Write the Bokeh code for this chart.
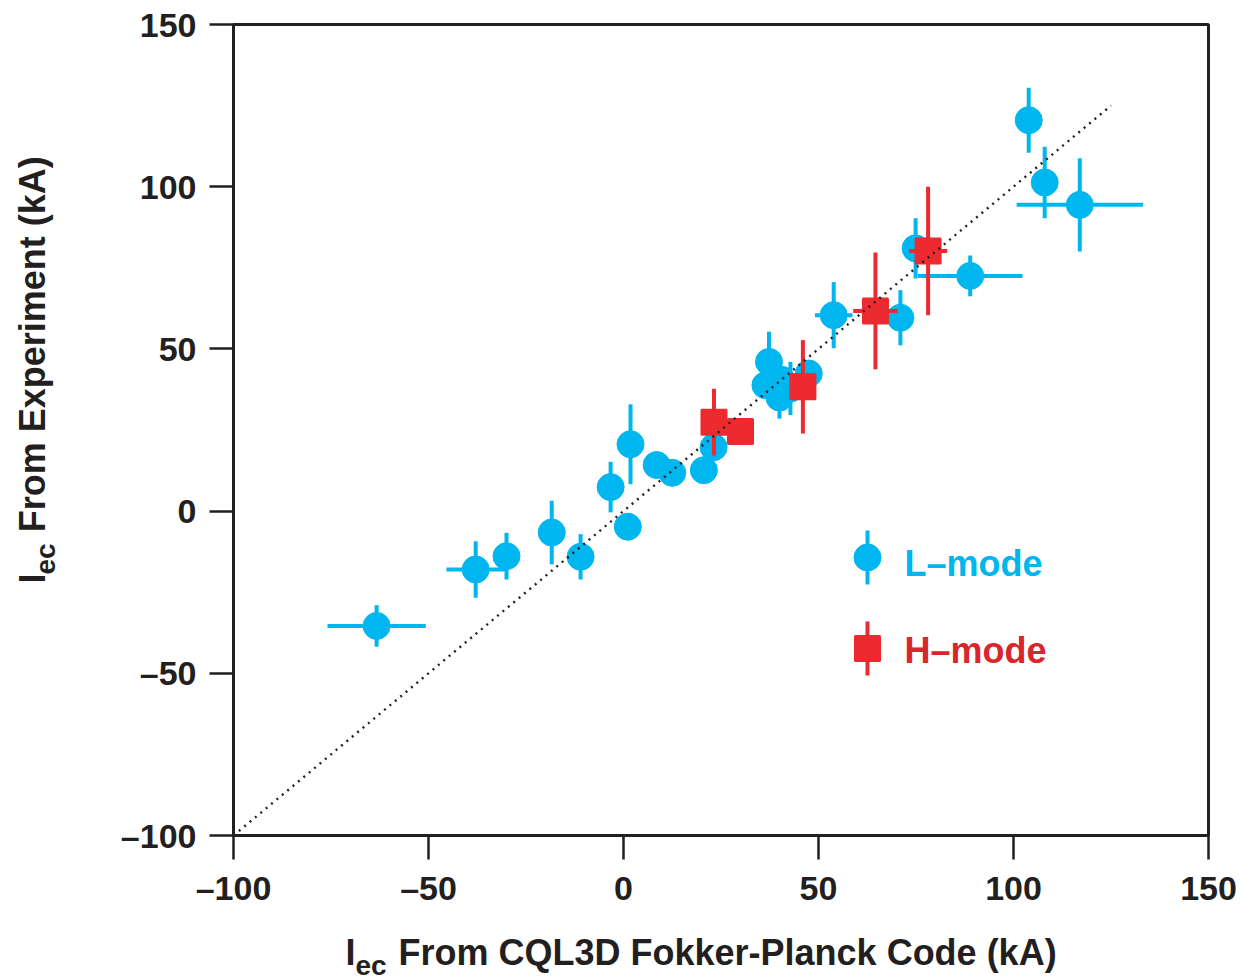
import math
from bokeh.plotting import figure
from bokeh.models import FixedTicker, Range1d
from bokeh.layouts import column, row
from bokeh.core.properties import value
from bokeh.embed import file_html
from bokeh.resources import INLINE

# ---------------- data ----------------
# L-mode: CQL3D current (x), experimental current (y), error bars
L_X = [-63.3, -37.9, -30.0, -18.4, -11.0, -3.3, 1.8, 1.1, 8.5, 12.5, 20.6, 23.1,
       37.3, 36.4, 40.0, 42.8, 40.5, 47.5, 53.9, 71.0, 74.9, 88.9, 103.9, 108.0, 117.0]
L_Y = [-35.4, -18.0, -13.9, -6.6, -14.1, 7.4, 20.6, -4.8, 14.2, 11.8, 12.6, 19.7,
       46.0, 38.8, 35.0, 37.8, 40.5, 42.4, 60.4, 59.6, 81.0, 72.5, 120.5, 101.3, 94.4]
L_XERR = [12.6, 7.5, 0, 0, 0, 0, 0, 0, 0, 0, 0, 0,
          0, 0, 0, 0, 0, 0, 4.8, 0, 0, 13.4, 0, 0, 16.2]
L_YERR = [6.4, 8.7, 7.2, 9.8, 7.0, 7.8, 12.3, 0, 0, 0, 0, 0,
          9.3, 0, 6.5, 8.2, 0, 0, 10.2, 8.5, 9.3, 6.3, 10.0, 11.0, 14.4]

# H-mode
H_X = [23.2, 30.0, 46.0, 64.6, 78.1]
H_Y = [27.4, 24.5, 38.3, 61.7, 80.2]
H_XERR = [0, 0, 0, 5.7, 4.9]
H_YERR = [10.3, 0, 14.4, 18.0, 19.8]

# y = x reference line
DIAG_X = [-100, 125]
DIAG_Y = [-100, 125]

TICKS = [-100, -50, 0, 50, 100, 150]
TICK_LABELS = {-100: "\u2013100", -50: "\u201350", 0: "0", 50: "50", 100: "100", 150: "150"}

SERIES_NAMES = ["L\u2013mode", "H\u2013mode"]
X_TITLE = ["I", "ec", "From CQL3D Fokker-Planck Code (kA)"]
Y_TITLE = ["I", "ec", "From Experiment (kA)"]

# ---------------- style ----------------
BLUE = "#00B6EE"
RED = "#EC2A2F"
RED_TEXT = "#D9252C"
INK = "#231F20"
FONT = "Liberation Sans"

XMIN, XMAX, YMIN, YMAX = -100, 150, -100, 150
FW, FH = 975, 811
LEFT, TOP = 233, 24
STRIP_L = 70          # width of strip holding y title
STRIP_B = 60          # height of strip holding x title
MAIN_H = 980 - STRIP_B  # 920


def dx(px):
    return XMIN + (px - LEFT) / FW * (XMAX - XMIN)


def dy(py):
    return YMAX - (py - TOP) / FH * (YMAX - YMIN)


p = figure(frame_width=FW, frame_height=FH,
           x_range=Range1d(XMIN, XMAX), y_range=Range1d(YMIN, YMAX),
           output_backend="svg", toolbar_location=None, title=None,
           min_border_left=LEFT - STRIP_L, min_border_right=34,
           min_border_top=TOP, min_border_bottom=MAIN_H - TOP - FH)
p.background_fill_color = "white"
p.border_fill_color = "white"
p.xgrid.visible = False
p.ygrid.visible = False
p.outline_line_color = INK
p.outline_line_width = 3

for ax in (p.xaxis[0], p.yaxis[0]):
    ax.ticker = FixedTicker(ticks=TICKS)
    ax.major_label_overrides = TICK_LABELS
    ax.axis_line_color = INK
    ax.axis_line_width = 3
    ax.major_tick_line_color = INK
    ax.major_tick_line_width = 2.5
    ax.major_tick_in = 0
    ax.major_tick_out = 24
    ax.minor_tick_line_color = None
    ax.major_label_text_font = FONT
    ax.major_label_text_font_style = "bold"
    ax.major_label_text_font_size = "34px"
    ax.major_label_text_color = INK
p.xaxis.major_label_standoff = 9
p.yaxis.major_label_standoff = 13


def err_segments(xs, ys, xe, ye):
    x0, y0, x1, y1 = [], [], [], []
    for x, y, ex, ey in zip(xs, ys, xe, ye):
        if ey > 0:
            x0.append(x); y0.append(y - ey); x1.append(x); y1.append(y + ey)
        if ex > 0:
            x0.append(x - ex); y0.append(y); x1.append(x + ex); y1.append(y)
    return x0, y0, x1, y1


# L-mode
sx0, sy0, sx1, sy1 = err_segments(L_X, L_Y, L_XERR, L_YERR)
p.segment(sx0, sy0, sx1, sy1, line_color=BLUE, line_width=4)
p.scatter(L_X, L_Y, marker="circle", size=27, fill_color=BLUE, line_color=BLUE, line_width=1)

# H-mode
hx0, hy0, hx1, hy1 = err_segments(H_X, H_Y, H_XERR, H_YERR)
p.segment(hx0, hy0, hx1, hy1, line_color=RED, line_width=4)
p.scatter(H_X, H_Y, marker="square", size=24, fill_color=RED, line_color=RED,
          line_width=3, line_join="round")

# diagonal dotted line
p.line(DIAG_X, DIAG_Y, line_color=INK, line_width=2.4, line_dash="2 5")

# ---------------- legend (manual) ----------------
LEG_MX = dx(867)
LEG_Y = [dy(557), dy(648)]
LEG_HALF = (dy(529) - dy(583)) / 2
p.segment([LEG_MX], [LEG_Y[0] - LEG_HALF], [LEG_MX], [LEG_Y[0] + LEG_HALF], line_color=BLUE, line_width=4)
p.scatter([LEG_MX], [LEG_Y[0]], marker="circle", size=27, fill_color=BLUE, line_color=BLUE)
p.segment([LEG_MX], [LEG_Y[1] - LEG_HALF], [LEG_MX], [LEG_Y[1] + LEG_HALF], line_color=RED, line_width=4)
p.scatter([LEG_MX], [LEG_Y[1]], marker="square", size=24, fill_color=RED, line_color=RED,
          line_width=3, line_join="round")
p.text(x=[dx(904), dx(904)], y=[dy(563), dy(650)], text=SERIES_NAMES,
       text_color=[BLUE, RED_TEXT], text_font=value(FONT), text_font_style="bold",
       text_font_size="36px", text_align="left", text_baseline="alphabetic")


def strip(w, h):
    s = figure(width=w, height=h, x_range=Range1d(0, w), y_range=Range1d(0, h),
               x_axis_type=None, y_axis_type=None, output_backend="svg",
               toolbar_location=None, min_border=0, title=None)
    s.min_border_left = s.min_border_right = s.min_border_top = s.min_border_bottom = 0
    s.outline_line_color = None
    s.background_fill_color = "white"
    s.border_fill_color = "white"
    return s


# ---------------- y title strip (page px 0..70 x 0..920) ----------------
ys = strip(STRIP_L, MAIN_H)
ys.text(x=[32, 45, 32], y=[MAIN_H - 634, MAIN_H - 624, MAIN_H - 576], text=Y_TITLE,
        angle=math.pi / 2, text_color=INK, text_font=value(FONT), text_font_style="bold",
        text_font_size=["36px", "28px", "36px"], text_align="left", text_baseline="alphabetic")

# ---------------- x title strip (page px 0..1242 x 920..980) ----------------
xs = strip(1242, STRIP_B)
xs.text(x=[345, 355, 398], y=[980 - 952, 980 - 965, 980 - 952], text=X_TITLE,
        text_color=INK, text_font=value(FONT), text_font_style="bold",
        text_font_size=["36px", "28px", "36px"], text_align="left", text_baseline="alphabetic")

layout = column(row(ys, p, spacing=0), xs, spacing=0)
open("out.html", "w").write(file_html(layout, INLINE))
